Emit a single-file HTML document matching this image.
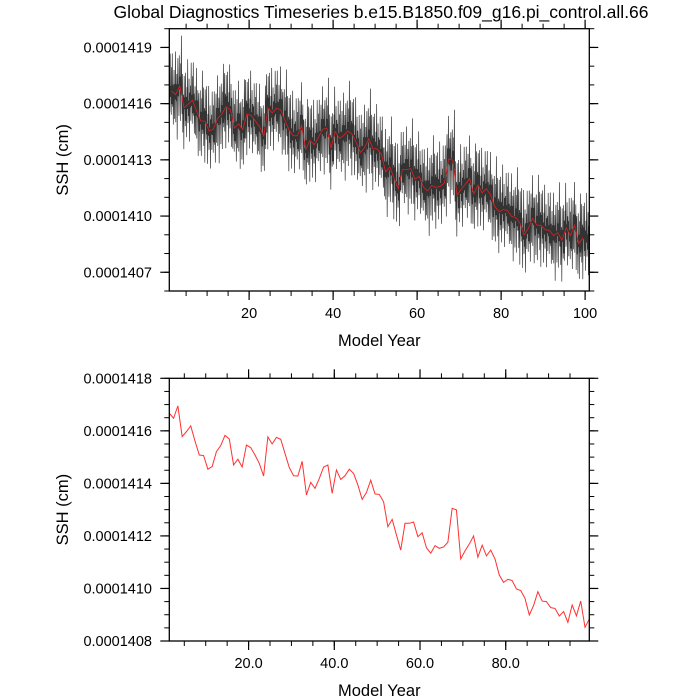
<!DOCTYPE html>
<html><head><meta charset="utf-8"><title>SSH timeseries</title>
<style>
html,body{margin:0;padding:0;background:#fff;}
svg{display:block;font-family:"Liberation Sans",sans-serif;}
</style></head>
<body>
<svg id="chart" width="700" height="700" viewBox="0 0 700 700" xmlns="http://www.w3.org/2000/svg">
<rect x="0" y="0" width="700" height="700" fill="#fff"/>
<text x="381" y="18" font-size="17.5" text-anchor="middle">Global Diagnostics Timeseries b.e15.B1850.f09_g16.pi_control.all.66</text>
<g id="top"></g>
<g id="bot"></g>
</svg>
<script>
// values in units of 1e-7 cm (1416.67 => 0.000141667 cm)
const annualYears = [];
for (let i = 0; i < 99; i++) annualYears.push(1.5 + i);
const annualSSH = [1416.67,1416.48,1416.95,1415.78,1415.97,1416.19,1415.61,1415.08,1415.06,1414.54,
1414.64,1415.21,1415.44,1415.83,1415.69,1414.70,1414.92,1414.62,1415.46,1415.36,
1415.08,1414.76,1414.28,1415.77,1415.50,1415.75,1415.68,1415.14,1414.60,1414.29,
1414.28,1414.84,1413.56,1414.04,1413.81,1414.19,1414.62,1414.70,1413.62,1414.51,
1414.15,1414.29,1414.54,1414.38,1413.94,1413.39,1413.65,1414.12,1413.60,1413.58,
1413.30,1412.35,1412.63,1412.04,1411.46,1412.48,1412.48,1412.53,1411.97,1412.12,
1411.55,1411.34,1411.63,1411.53,1411.58,1411.76,1413.05,1412.99,1411.12,1411.43,
1411.69,1412.00,1411.19,1411.65,1411.24,1411.46,1411.12,1410.51,1410.23,1410.35,
1410.30,1409.98,1409.92,1409.62,1408.99,1409.35,1409.88,1409.52,1409.50,1409.27,
1409.24,1408.95,1409.12,1408.71,1409.37,1408.96,1409.52,1408.52,1408.84];
// monthly anomalies (1e-7 cm) about annual mean, estimated from noise in the reference
const monthlyAnom = [1.1,-1.3,2.0,-0.4,0.3,-1.8,1.5,-0.7,2.6,-0.9,0.5,-2.1,
0.2,1.7,-1.4,0.8,-0.3,2.3,-1.9,0.6,-0.5,1.3,-2.4,0.4,
1.6,-0.8,0.1,-1.6,2.1,-0.2,0.7,-2.2,1.2,-0.6,2.9,-1.0,
-0.4,1.8,-1.7,0.3,1.0,-2.6,1.7,-0.1,0.6,-1.4,2.2,-0.7,
0.5,-1.9,1.3,-0.3,2.4,-1.3,0.2,-0.9,1.6,-2.0,0.8,-0.2];
const topYTicks = [1407,1410,1413,1416,1419];
const topYLabels = ["0.0001407","0.0001410","0.0001413","0.0001416","0.0001419"];
const topXTicks = [20,40,60,80,100];
const topXLabels = ["20","40","60","80","100"];
const botYTicks = [1408,1410,1412,1414,1416,1418];
const botYLabels = ["0.0001408","0.0001410","0.0001412","0.0001414","0.0001416","0.0001418"];
const botXTicks = [20,40,60,80];
const botXLabels = ["20.0","40.0","60.0","80.0"];

const NS = "http://www.w3.org/2000/svg";
function mk(tag, attrs, parent){const e=document.createElementNS(NS,tag);for(const k in attrs)e.setAttribute(k,attrs[k]);parent.appendChild(e);return e;}

function panel(g, box, xd, yd, xMajor, xLabels, xMinorStep, yMajor, yLabels, yMinorStep, prefix){
  const sx = v => box.x0 + (v - xd[0]) / (xd[1] - xd[0]) * (box.x1 - box.x0);
  const sy = v => box.y1 - (v - yd[0]) / (yd[1] - yd[0]) * (box.y1 - box.y0);
  const minorX = Math.ceil(xd[0]/xMinorStep)*xMinorStep;
  for (let v = minorX; v <= xd[1]+1e-9; v += xMinorStep) {
    const x = sx(v);
    const t1 = mk('line',{x1:x,x2:x,y1:box.y1,y2:box.y1+5,stroke:'#000','stroke-width':1},g);
    
    
    mk('line',{x1:x,x2:x,y1:box.y0,y2:box.y0-5,stroke:'#000','stroke-width':1},g);
  }
  const minorY = Math.ceil(yd[0]/yMinorStep-1e-9)*yMinorStep;
  for (let v = minorY; v <= yd[1]+1e-9; v += yMinorStep) {
    const y = sy(v);
    mk('line',{x1:box.x0,x2:box.x0-5,y1:y,y2:y,stroke:'#000','stroke-width':1},g);
    mk('line',{x1:box.x1,x2:box.x1+5,y1:y,y2:y,stroke:'#000','stroke-width':1},g);
  }
  xMajor.forEach((v,i)=>{
    const x = sx(v);
    mk('line',{x1:x,x2:x,y1:box.y1,y2:box.y1+9,stroke:'#000','stroke-width':1.2},g);
    mk('line',{x1:x,x2:x,y1:box.y0,y2:box.y0-9,stroke:'#000','stroke-width':1.2},g);
    const t = mk('text',{x:x,y:box.y1+27,'font-size':14.5,'text-anchor':'middle'},g);
    t.textContent = xLabels[i];
    
    
  });
  yMajor.forEach((v,i)=>{
    const y = sy(v);
    mk('line',{x1:box.x0,x2:box.x0-9,y1:y,y2:y,stroke:'#000','stroke-width':1.2},g);
    mk('line',{x1:box.x1,x2:box.x1+9,y1:y,y2:y,stroke:'#000','stroke-width':1.2},g);
    const t = mk('text',{x:152,y:y+5,'font-size':14.5,'text-anchor':'end'},g);
    t.textContent = yLabels[i];
    
    
  });
  return {sx, sy};
}

function frame(g, box, prefix){
  const r = mk('rect',{x:box.x0,y:box.y0,width:box.x1-box.x0,height:box.y1-box.y0,fill:'none',stroke:'#000','stroke-width':1.3},g);
  
  
}

function titles(g, box, prefix){
  const xt = mk('text',{x:(box.x0+box.x1)/2,y:box.y1+55,'font-size':16.5,'text-anchor':'middle'},g);
  xt.textContent = 'Model Year';
  
  
  const cy = (box.y0+box.y1)/2;
  const yt = mk('text',{x:68,y:cy,'font-size':16.5,'text-anchor':'middle',transform:'rotate(-90 68 '+cy+')'},g);
  yt.textContent = 'SSH (cm)';
  
  
}

// ---- top panel ----
const gT = document.getElementById('top');


const boxT = {x0:169.3,x1:589.3,y0:28.7,y1:291};
const aT = panel(gT, boxT, [1,101], [1406,1420], topXTicks, topXLabels, 5, topYTicks, topYLabels, 1, 'top-');
let pts = [];
for (let yi = 0; yi < annualSSH.length + 1; yi++) {
  const base = annualSSH[Math.min(yi, annualSSH.length-1)];
  for (let m = 0; m < 12; m++) {
    const idx = yi*12+m;
    const v = base + monthlyAnom[idx % monthlyAnom.length] * (0.7 + 0.3*((idx*7)%5)/4);
    const yr = 1 + yi + (m+0.5)/12;
    if (yr > 101) break;
    pts.push(aT.sx(yr).toFixed(2)+','+Math.max(boxT.y0,Math.min(boxT.y1,aT.sy(v))).toFixed(2));
  }
}
const monthly = mk('polyline',{points:pts.join(' '),fill:'none',stroke:'#000','stroke-width':0.7,'stroke-opacity':0.8},gT);


const redTop = mk('polyline',{points:annualSSH.map((v,i)=>aT.sx(annualYears[i]).toFixed(2)+','+aT.sy(v).toFixed(2)).join(' '),fill:'none',stroke:'#e02020','stroke-width':0.8},gT);


frame(gT, boxT, 'top-');
titles(gT, boxT, 'top-');

// ---- bottom panel ----
const gB = document.getElementById('bot');


const boxB = {x0:169.3,x1:589.3,y0:378.3,y1:641};
const aB = panel(gB, boxB, [annualYears[0], annualYears[annualYears.length-1]], [1408,1418], botXTicks, botXLabels, 5, botYTicks, botYLabels, 0.5, 'bottom-');
const redB = mk('polyline',{points:annualSSH.map((v,i)=>aB.sx(annualYears[i]).toFixed(2)+','+aB.sy(v).toFixed(2)).join(' '),fill:'none',stroke:'#ff3030','stroke-width':1},gB);


frame(gB, boxB, 'bottom-');
titles(gB, boxB, 'bottom-');
</script>
</body></html>
